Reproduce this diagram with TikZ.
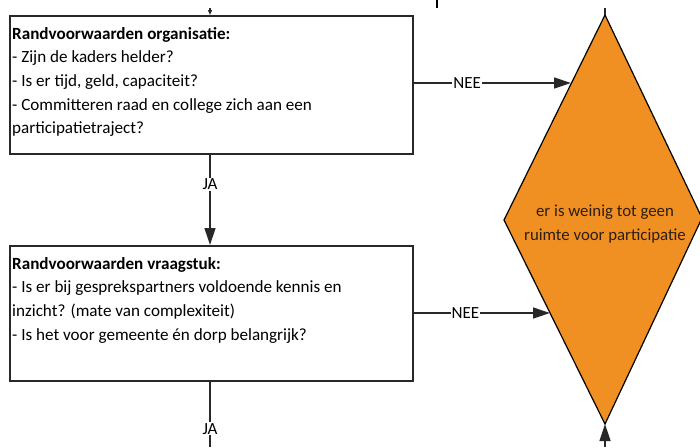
\documentclass[tikz,border=0pt]{standalone}
\usepackage{fontspec}
\setmainfont{Carlito}
\usetikzlibrary{arrows.meta}
\definecolor{lineclr}{RGB}{40,40,40}
\definecolor{orangefill}{RGB}{240,143,34}
\definecolor{darktext}{RGB}{45,30,20}
\tikzset{
  boxstyle/.style={draw=lineclr, line width=1.6pt, fill=white},
  boxtext/.style={anchor=north west, align=left, inner sep=0pt, font=\fontsize{17.1}{23.6}\selectfont, text=black},
  conn/.style={draw=lineclr, line width=1.3pt},
  arr/.style={conn, -{Triangle[length=17pt,width=11pt]}},
  lbl/.style={fill=white, inner sep=1pt, font=\fontsize{17}{18}\selectfont, text=black},
}
\begin{document}
\begin{tikzpicture}[x=1pt,y=-1pt]
\useasboundingbox (0,0) rectangle (700,447);
% diamond
\path[fill=orangefill, draw=black, line width=1.2pt] (605,15) -- (702,218) -- (605,424) -- (504,220) -- cycle;
\coordinate (dtop) at (605,15);
\coordinate (dbot) at (605,424);
\node[align=center, text=darktext, font=\fontsize{16.8}{24.5}\selectfont] (dtext) at (605,224) {er is weinig tot geen\\ruimte voor participatie};
% boxes
\node[boxstyle, minimum width=403pt, minimum height=138pt, anchor=north west, inner sep=0pt] (b1) at (9,15) {};
\node[boxstyle, minimum width=403pt, minimum height=135pt, anchor=north west, inner sep=0pt] (b2) at (9,245) {};
\node[boxtext] (t1) at ([shift={(3,12)}]b1.north west) {\textbf{Randvoorwaarden organisatie:}\\- Zijn de kaders helder?\\- Is er tijd, geld, capaciteit?\\- Committeren raad en college zich aan een\\participatietraject?};
\node[boxtext] (t2) at ([shift={(3,12)}]b2.north west) {\textbf{Randvoorwaarden vraagstuk:}\\- Is er bij gesprekspartners voldoende kennis en\\inzicht? (mate van complexiteit)\\- Is het voor gemeente én dorp belangrijk?};
% connectors
\coordinate (a1e) at (571,83);
\coordinate (a2e) at (550,313);
\draw[arr] (b1.east |- a1e) -- node[lbl, pos=0.34] (n1) {NEE} (a1e);
\draw[arr] (b2.east |- a2e) -- node[lbl, pos=0.38] (n2) {NEE} (a2e);
\coordinate (c1) at (210,0);
\draw[arr] (b1.south -| c1) -- node[lbl, pos=0.33] (j1) {JA} (b2.north -| c1);
\coordinate (bend) at (210,447);
\draw[conn] (b2.south -| c1) -- node[lbl, pos=0.72] (j2) {JA} (bend);
\coordinate (dbotin) at (605,447);
\draw[arr] (dbotin) -- (dbot);
% fragments at top edge
\coordinate (tk1) at (210,8);
\draw[conn, -{Triangle[length=5pt,width=4pt]}] (tk1) -- (b1.north -| tk1);
\coordinate (tk2) at (605,8);
\draw[conn] (tk2) -- (dtop);
\coordinate (tk3a) at (437,0);
\coordinate (tk3b) at (437,8);
\draw[line width=1.2pt, draw=black] (tk3a) -- (tk3b);
\end{tikzpicture}
\end{document}
